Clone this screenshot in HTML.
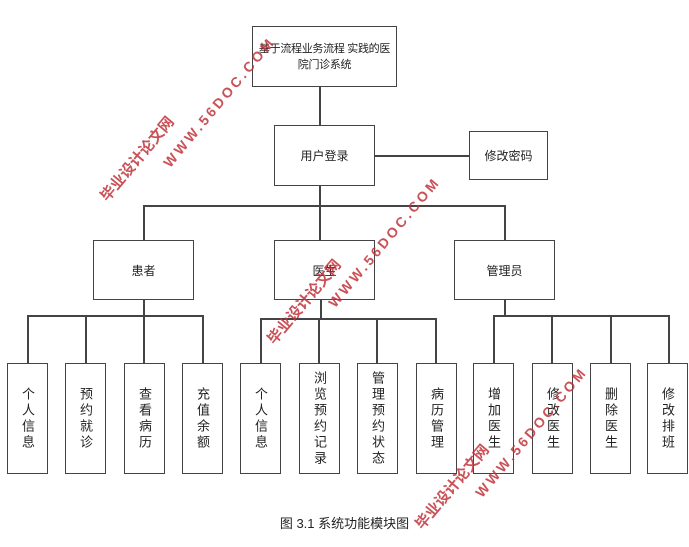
<!DOCTYPE html>
<html><head><meta charset="utf-8"><style>
body{margin:0;width:689px;height:547px;background:#fff;overflow:hidden;position:relative;font-family:"Liberation Sans","Noto Sans CJK SC",sans-serif;color:#222}
.b{position:absolute;border:1.5px solid #444;box-sizing:border-box;display:flex;align-items:center;justify-content:center;text-align:center;font-size:12px;background:#fff}
.l{position:absolute;background:#444}
.v{writing-mode:vertical-rl;letter-spacing:3px;font-size:13px}
.w{position:absolute;color:#c0333a;font-weight:bold;transform:rotate(-50deg);transform-origin:left top;white-space:nowrap;opacity:.85}
</style></head><body>
<div class="l" style="left:319px;top:86px;width:1.5px;height:40px"></div>
<div class="l" style="left:374px;top:155px;width:96px;height:1.5px"></div>
<div class="l" style="left:319px;top:185px;width:1.5px;height:55px"></div>
<div class="l" style="left:143px;top:205px;width:362px;height:1.5px"></div>
<div class="l" style="left:143px;top:205px;width:1.5px;height:35px"></div>
<div class="l" style="left:504px;top:205px;width:1.5px;height:35px"></div>
<div class="l" style="left:143px;top:299px;width:1.5px;height:16px"></div>
<div class="l" style="left:27px;top:315px;width:176px;height:1.5px"></div>
<div class="l" style="left:27px;top:315px;width:1.5px;height:48px"></div>
<div class="l" style="left:85px;top:315px;width:1.5px;height:48px"></div>
<div class="l" style="left:143px;top:315px;width:1.5px;height:48px"></div>
<div class="l" style="left:202px;top:315px;width:1.5px;height:48px"></div>
<div class="l" style="left:320px;top:299px;width:1.5px;height:19px"></div>
<div class="l" style="left:260px;top:318px;width:176px;height:1.5px"></div>
<div class="l" style="left:260px;top:318px;width:1.5px;height:45px"></div>
<div class="l" style="left:318px;top:318px;width:1.5px;height:45px"></div>
<div class="l" style="left:376px;top:318px;width:1.5px;height:45px"></div>
<div class="l" style="left:435px;top:318px;width:1.5px;height:45px"></div>
<div class="l" style="left:504px;top:299px;width:1.5px;height:16px"></div>
<div class="l" style="left:493px;top:315px;width:176px;height:1.5px"></div>
<div class="l" style="left:493px;top:315px;width:1.5px;height:48px"></div>
<div class="l" style="left:551px;top:315px;width:1.5px;height:48px"></div>
<div class="l" style="left:610px;top:315px;width:1.5px;height:48px"></div>
<div class="l" style="left:668px;top:315px;width:1.5px;height:48px"></div>

<div class="b" style="left:252px;top:26px;width:145px;height:61px;line-height:16px;font-size:11px;letter-spacing:-0.3px;white-space:nowrap">基于流程业务流程 实践的医<br>院门诊系统</div>
<div class="b" style="left:274px;top:125px;width:101px;height:61px">用户登录</div>
<div class="b" style="left:469px;top:131px;width:79px;height:49px">修改密码</div>
<div class="b" style="left:93px;top:240px;width:101px;height:60px">患者</div>
<div class="b" style="left:274px;top:240px;width:101px;height:60px">医生</div>
<div class="b" style="left:454px;top:240px;width:101px;height:60px">管理员</div>

<div class="b" style="left:7px;top:363px;width:41px;height:111px"><span class="v">个人信息</span></div>
<div class="b" style="left:65px;top:363px;width:41px;height:111px"><span class="v">预约就诊</span></div>
<div class="b" style="left:124px;top:363px;width:41px;height:111px"><span class="v">查看病历</span></div>
<div class="b" style="left:182px;top:363px;width:41px;height:111px"><span class="v">充值余额</span></div>
<div class="b" style="left:240px;top:363px;width:41px;height:111px"><span class="v">个人信息</span></div>
<div class="b" style="left:299px;top:363px;width:41px;height:111px"><span class="v">浏览预约记录</span></div>
<div class="b" style="left:357px;top:363px;width:41px;height:111px"><span class="v">管理预约状态</span></div>
<div class="b" style="left:416px;top:363px;width:41px;height:111px"><span class="v">病历管理</span></div>
<div class="b" style="left:473px;top:363px;width:41px;height:111px"><span class="v">增加医生</span></div>
<div class="b" style="left:532px;top:363px;width:41px;height:111px"><span class="v">修改医生</span></div>
<div class="b" style="left:590px;top:363px;width:41px;height:111px"><span class="v">删除医生</span></div>
<div class="b" style="left:647px;top:363px;width:41px;height:111px"><span class="v">修改排班</span></div>

<div style="position:absolute;left:0;width:689px;top:513px;text-align:center;font-size:13px">图 3.1 系统功能模块图</div>

<div class="w" style="left:95px;top:192px;font-size:15px">毕业设计论文网</div>
<div class="w" style="left:160px;top:160px;font-size:14px;letter-spacing:3px">WWW.56DOC.COM</div>
<div class="w" style="left:262px;top:335px;font-size:15px">毕业设计论文网</div>
<div class="w" style="left:325px;top:300px;font-size:14px;letter-spacing:3px">WWW.56DOC.COM</div>
<div class="w" style="left:410px;top:520px;font-size:15px">毕业设计论文网</div>
<div class="w" style="left:472px;top:490px;font-size:14px;letter-spacing:3px">WWW.56DOC.COM</div>
</body></html>
